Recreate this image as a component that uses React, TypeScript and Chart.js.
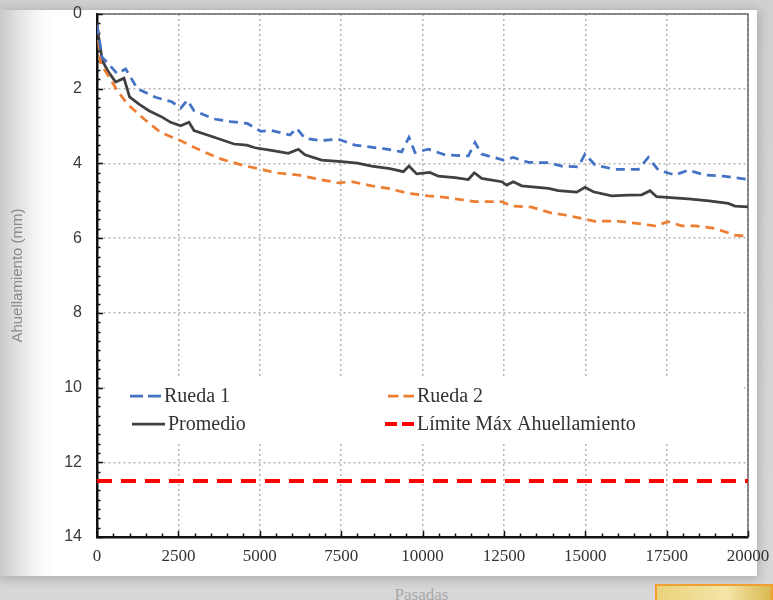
import React, { useEffect, useRef } from "react";
import { Chart, registerables } from "chart.js";

Chart.register(...registerables);

// ---- data ----
const rueda1X = [0, 150, 420, 625, 880, 1240, 1800, 2300, 2570, 2775, 2980, 3594, 4100, 4617, 5028, 5366, 5929, 6134, 6390, 6902, 7413, 7926, 8848, 9360, 9585, 9770, 10179, 10692, 11408, 11613, 11818, 12483, 12790, 13250, 13866, 14275, 14787, 14992, 15300, 15914, 16630, 16938, 17245, 17757, 18165, 18678, 19240, 20000];
const rueda1Y = [0.3, 1.15, 1.4, 1.6, 1.47, 2.0, 2.23, 2.35, 2.52, 2.31, 2.59, 2.81, 2.88, 2.93, 3.14, 3.12, 3.24, 3.06, 3.33, 3.39, 3.35, 3.51, 3.61, 3.69, 3.3, 3.71, 3.62, 3.77, 3.8, 3.44, 3.75, 3.91, 3.84, 3.97, 3.98, 4.07, 4.09, 3.75, 4.04, 4.16, 4.16, 3.84, 4.18, 4.31, 4.18, 4.31, 4.34, 4.43];

const rueda2X = [0, 113, 317, 625, 932, 1444, 1957, 2570, 3082, 3800, 4516, 5028, 5468, 6185, 6902, 7413, 7824, 8438, 8950, 9564, 10179, 10692, 11613, 12433, 12740, 13354, 13968, 14378, 14890, 15300, 15914, 16528, 17143, 17552, 17962, 18370, 18985, 19600, 20000];
const rueda2Y = [0.3, 1.34, 1.61, 2.05, 2.41, 2.81, 3.17, 3.39, 3.61, 3.88, 4.06, 4.15, 4.25, 4.31, 4.44, 4.52, 4.49, 4.6, 4.67, 4.8, 4.87, 4.91, 5.02, 5.02, 5.14, 5.17, 5.33, 5.38, 5.47, 5.55, 5.54, 5.6, 5.67, 5.56, 5.67, 5.67, 5.74, 5.92, 5.95];

const promedioX = [0, 50, 164, 350, 574, 830, 1000, 1300, 1597, 2000, 2263, 2570, 2826, 2980, 3600, 4209, 4600, 4854, 5400, 5878, 6186, 6390, 6902, 7516, 8000, 8438, 9000, 9410, 9585, 9820, 10230, 10486, 11000, 11408, 11592, 11818, 12433, 12586, 12790, 13048, 13866, 14173, 14738, 14992, 15247, 15812, 16300, 16734, 16989, 17194, 18165, 18800, 19394, 19600, 20000];
const promedioY = [0.25, 0.6, 1.25, 1.55, 1.82, 1.72, 2.22, 2.42, 2.59, 2.76, 2.9, 2.99, 2.9, 3.12, 3.3, 3.48, 3.51, 3.58, 3.66, 3.73, 3.62, 3.77, 3.91, 3.95, 3.99, 4.07, 4.14, 4.22, 4.07, 4.28, 4.24, 4.34, 4.38, 4.43, 4.25, 4.4, 4.49, 4.58, 4.49, 4.6, 4.67, 4.73, 4.77, 4.64, 4.76, 4.87, 4.85, 4.84, 4.73, 4.89, 4.95, 5.0, 5.07, 5.14, 5.16];

const limiteX = [0, 20000];
const limiteY = [12.5, 12.5];

const seriesLabels = ["Rueda 1", "Rueda 2", "Promedio", "Límite Máx Ahuellamiento"];

const X_MIN = 0;
const X_MAX = 20000;
const X_MAJOR = 2500;
const X_MINOR = 500;
const Y_MIN = 0;
const Y_MAX = 14;
const Y_MAJOR = 2;
const Y_MINOR = 0.25;

const xAxisTitle = "Pasadas";
const yAxisTitle = "Ahuellamiento (mm)";

const toPoints = (xs: number[], ys: number[]) => xs.map((x, i) => ({ x, y: ys[i] }));

const framePlugin = {
  id: "frameTicks",
  beforeDatasetsDraw(chart: any) {
    const { ctx, chartArea: a, scales } = chart;
    ctx.save();
    ctx.strokeStyle = "#6a6a6a";
    ctx.lineWidth = 1.5;
    ctx.beginPath();
    ctx.moveTo(a.left, a.top);
    ctx.lineTo(a.right, a.top);
    ctx.lineTo(a.right, a.bottom);
    ctx.stroke();

    ctx.strokeStyle = "#111";
    ctx.lineWidth = 1.5;
    ctx.beginPath();
    const ys = scales.y;
    const n = Math.round((Y_MAX - Y_MIN) / Y_MINOR);
    for (let i = 0; i <= n; i++) {
      const v = Y_MIN + i * Y_MINOR;
      const py = Math.round(ys.getPixelForValue(v)) + 0.5;
      const major = Math.abs(v / Y_MAJOR - Math.round(v / Y_MAJOR)) < 1e-6;
      const len = major ? 6 : 3.5;
      ctx.moveTo(a.left, py);
      ctx.lineTo(a.left + len, py);
    }
    const xs = scales.x;
    const m = Math.round((X_MAX - X_MIN) / X_MINOR);
    for (let i = 0; i <= m; i++) {
      const v = X_MIN + i * X_MINOR;
      const px = Math.round(xs.getPixelForValue(v)) + 0.5;
      const major = v % X_MAJOR === 0;
      const len = major ? 6 : 3.5;
      ctx.moveTo(px, a.bottom);
      ctx.lineTo(px, a.bottom - len);
    }
    ctx.stroke();
    ctx.restore();
  },
};

const legendPlugin = {
  id: "insideLegend",
  afterDatasetsDraw(chart: any) {
    const { ctx, chartArea: a } = chart;
    const ds = chart.data.datasets;
    ctx.save();
    ctx.fillStyle = "#ffffff";
    ctx.fillRect(a.left + 8, a.top + 364, a.right - a.left - 12, 64);
    const items = [
      { i: 0, lx: 33, ly: 382, len: 31 },
      { i: 1, lx: 291, ly: 382, len: 26 },
      { i: 2, lx: 35, ly: 410, len: 33 },
      { i: 3, lx: 288, ly: 410, len: 29 },
    ];
    ctx.font = "20px 'Liberation Serif', 'Times New Roman', serif";
    ctx.textBaseline = "middle";
    ctx.fillStyle = "#333333";
    items.forEach((it) => {
      const d = ds[it.i];
      const x0 = a.left + it.lx;
      const y0 = a.top + it.ly;
      ctx.save();
      ctx.strokeStyle = d.borderColor;
      ctx.lineWidth = d.borderWidth;
      const dash = d.borderDash || [];
      if (dash.length) {
        const seg = (it.len - 5) / 2;
        ctx.setLineDash([seg, 5]);
      }
      ctx.beginPath();
      ctx.moveTo(x0, y0);
      ctx.lineTo(x0 + it.len, y0);
      ctx.stroke();
      ctx.restore();
      ctx.fillText(d.label, x0 + it.len + 3, y0 + 1);
    });
    ctx.restore();
  },
};

export default function App() {
  const ref = useRef<HTMLCanvasElement | null>(null);

  useEffect(() => {
    if (!ref.current) return;
    const chart = new Chart(ref.current, {
      type: "line",
      data: {
        datasets: [
          {
            label: seriesLabels[0],
            data: toPoints(rueda1X, rueda1Y),
            borderColor: "#4472C4",
            borderWidth: 2.75,
            borderDash: [9, 6],
            pointRadius: 0,
            tension: 0,
          },
          {
            label: seriesLabels[1],
            data: toPoints(rueda2X, rueda2Y),
            borderColor: "#ED7D31",
            borderWidth: 2.75,
            borderDash: [9, 6],
            pointRadius: 0,
            tension: 0,
          },
          {
            label: seriesLabels[2],
            data: toPoints(promedioX, promedioY),
            borderColor: "#404040",
            borderWidth: 2.75,
            pointRadius: 0,
            tension: 0,
          },
          {
            label: seriesLabels[3],
            data: toPoints(limiteX, limiteY),
            borderColor: "#FF0000",
            borderWidth: 4,
            borderDash: [15, 9],
            pointRadius: 0,
            tension: 0,
          },
        ],
      },
      options: {
        animation: false,
        responsive: false,
        parsing: false as any,
        layout: { padding: { left: 0, top: 14, right: 25, bottom: 0 } },
        plugins: {
          legend: { display: false },
          tooltip: { enabled: false },
        },
        scales: {
          x: {
            type: "linear",
            min: X_MIN,
            max: X_MAX,
            afterFit: (s: any) => {
              s.height = 63;
              s.paddingLeft = 0;
              s.paddingRight = 0;
            },
            ticks: {
              stepSize: X_MAJOR,
              maxRotation: 0,
              autoSkip: false,
              padding: 9,
              color: "#333333",
              font: { family: "'Liberation Serif', 'Times New Roman', serif", size: 17 },
              callback: (v: any) => String(v),
            },
            grid: { color: "#b3b3b3", lineWidth: 1.5, drawTicks: false },
            border: { color: "#111111", width: 2.5, dash: [2, 3] },
          },
          y: {
            type: "linear",
            reverse: true,
            min: Y_MIN,
            max: Y_MAX,
            afterFit: (s: any) => {
              s.width = 97;
              s.paddingTop = 0;
              s.paddingBottom = 0;
            },
            ticks: {
              stepSize: Y_MAJOR,
              padding: 15,
              color: "#3a3a3a",
              font: { family: "'Liberation Sans', Arial, sans-serif", size: 16 },
              callback: (v: any) => String(v),
            },
            grid: { color: "#b3b3b3", lineWidth: 1.5, drawTicks: false },
            border: { color: "#111111", width: 2.5, dash: [2, 3] },
            title: {
              display: true,
              text: yAxisTitle,
              color: "#8a8a8a",
              font: { family: "'Liberation Sans', Arial, sans-serif", size: 15 },
              padding: { top: 9, bottom: 0 },
            },
          },
        },
      },
      plugins: [framePlugin, legendPlugin],
    });
    return () => chart.destroy();
  }, []);

  return (
    <div
      style={{
        position: "absolute",
        left: 0,
        top: 0,
        width: 773,
        height: 600,
        overflow: "hidden",
        background: "linear-gradient(to bottom, #d0d0d0 0px, #d8d8d8 100%)",
      }}
    >
      <div
        style={{
          position: "absolute",
          left: 0,
          top: 10,
          width: 757,
          height: 566,
          background:
            "linear-gradient(to right, #c9c9c9 0px, #dedede 15px, #efefef 30px, #fafafa 42px, #ffffff 55px)",
          boxShadow: "0 2px 10px 2px rgba(0,0,0,0.18)",
        }}
      />
      <div
        style={{
          position: "absolute",
          left: 0,
          top: 585,
          width: 773,
          textAlign: "center",
          paddingLeft: 70,
          boxSizing: "border-box",
          font: "17px 'Liberation Serif', 'Times New Roman', serif",
          color: "#a9a9a9",
        }}
      >
        {xAxisTitle}
      </div>
      <div
        style={{
          position: "absolute",
          left: 655,
          top: 584,
          width: 118,
          height: 20,
          border: "2px solid #f0a030",
          boxSizing: "border-box",
          background: "linear-gradient(to right, #e9d27a, #f4e6a8 60%, #d9b850)",
        }}
      />
      <canvas
        ref={ref}
        width={773}
        height={600}
        style={{ position: "absolute", left: 0, top: 0, width: 773, height: 600 }}
      />
    </div>
  );
}
